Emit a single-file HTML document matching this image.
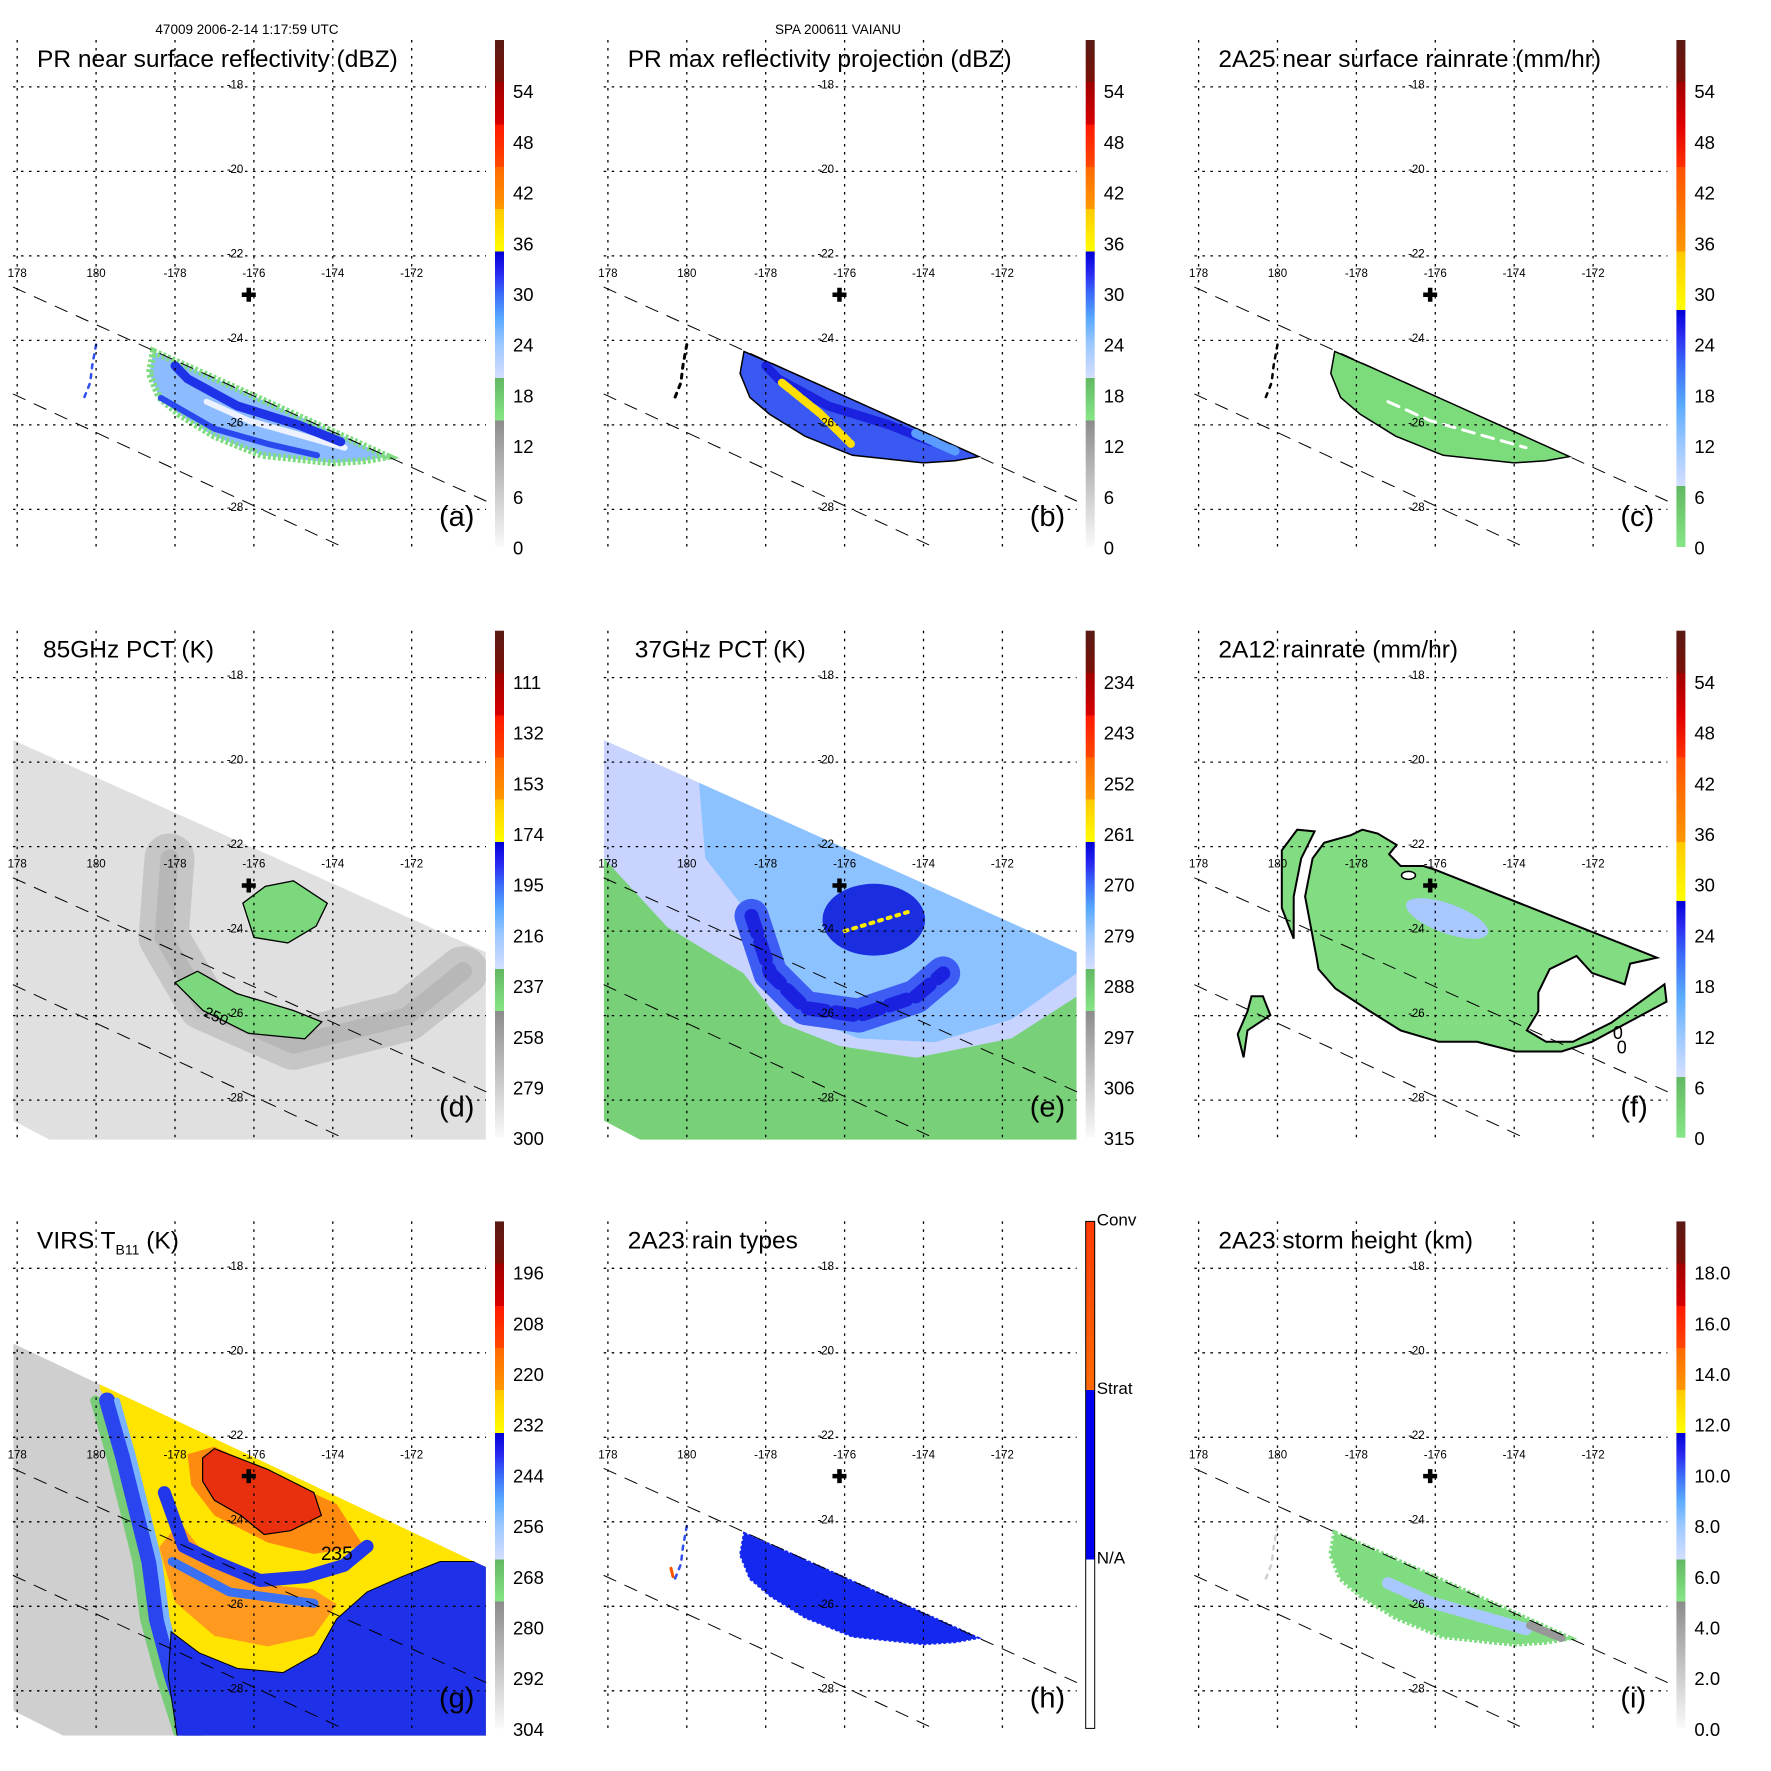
<!DOCTYPE html>
<html><head><meta charset="utf-8"><title>TRMM VAIANU 2006-2-14</title>
<style>
html,body{margin:0;padding:0;background:#fff;}
svg{display:block;font-family:"Liberation Sans",Arial,sans-serif;}
</style></head>
<body>
<svg id="fig" xmlns="http://www.w3.org/2000/svg" width="1771" height="1771" viewBox="0 0 1771 1771">
<rect x="0" y="0" width="1771" height="1771" fill="#fff"/>
<text x="247" y="34" font-size="13.5" text-anchor="middle">47009 2006-2-14 1:17:59 UTC</text>
<text x="838" y="34" font-size="13.5" text-anchor="middle">SPA 200611 VAIANU</text>
</svg>
<script>
// ---- axis data ----
const lonTicks=[178,180,182,184,186,188];
const lonTickLabels=['178','180','-178','-176','-174','-172'];
const latTicks=[-18,-20,-22,-24,-26,-28];
const latTickLabels=['-18','-20','-22','-24','-26','-28'];
const swathUpperLon=[177.9,189.88];
const swathUpperLat=[-22.74,-27.8];
const swathLowerLon=[177.9,186.25];
const swathLowerLat=[-25.27,-28.89];
const stormCenter=[183.87,-22.92];
// colorbar tick labels (top to bottom) at fractions 0.9..0
const cbFracs=[0.9,0.8,0.7,0.6,0.5,0.4,0.3,0.2,0.1,0];
const cbLabelsDbz=['54','48','42','36','30','24','18','12','6','0'];
const cbLabels85=['111','132','153','174','195','216','237','258','279','300'];
const cbLabels37=['234','243','252','261','270','279','288','297','306','315'];
const cbLabelsVirs=['196','208','220','232','244','256','268','280','292','304'];
const cbLabelsHeight=['18.0','16.0','14.0','12.0','10.0','8.0','6.0','4.0','2.0','0.0'];
const cbLabelsRainType=['Conv','Strat','N/A'];
const cbFracsRainType=[1,0.667,0.333];
// ---- swaths ----
const tmiLon=[177.9,189.88,189.88,178.82,177.9];
const tmiLat=[-19.48,-24.5,-28.94,-28.94,-28.49];
const virsLon=[177.9,189.88,189.88,179.16,177.9];
const virsLat=[-19.78,-25.07,-29.06,-29.06,-28.47];
// ---- PR storm region ----
const prLon=[181.45,182.5,183.5,184.5,185.5,186.5,187.4,186.8,186.0,185.2,184.2,183.0,182.1,181.6,181.35];
const prLat=[-24.26,-24.69,-25.11,-25.53,-25.95,-26.37,-26.75,-26.85,-26.9,-26.82,-26.72,-26.27,-25.75,-25.35,-24.78];
const prBand1Lon=[182.0,182.32,183.58,185.13,186.2];
const prBand1Lat=[-24.6,-24.91,-25.55,-26.0,-26.4];
const prBand2Lon=[181.64,183.0,184.35,185.6];
const prBand2Lat=[-25.36,-26.09,-26.45,-26.72];
const prGapLon=[182.8,183.87,186.3];
const prGapLat=[-25.45,-25.9,-26.54];
const prYellowLon=[182.41,183.38,184.16];
const prYellowLat=[-25.0,-25.73,-26.45];
const prSpeckLon=[180.0,179.9,179.85,179.7];
const prSpeckLat=[-24.1,-24.6,-25.0,-25.35];
// ---- 85 GHz ----
const d85BandLon=[181.86,181.71,182.71,185.0,187.87,189.3];
const d85BandLat=[-22.28,-24.15,-25.75,-26.69,-26.02,-24.95];
const d85P1Lon=[183.72,184.29,185.0,185.86,185.58,184.86,184.0];
const d85P1Lat=[-23.34,-22.94,-22.81,-23.34,-23.88,-24.28,-24.15];
const d85P2Lon=[182.0,182.57,183.57,185.0,185.72,185.29,183.86,182.71];
const d85P2Lat=[-25.22,-24.95,-25.48,-25.88,-26.15,-26.55,-26.42,-25.88];
// ---- 37 GHz ----
const e37LavLon=[177.5,177.9,179.5,181.44,182.41,183.87,185.81,188.23,189.88,190.5,190.5,177.5];
const e37LavLat=[-22.28,-22.28,-23.9,-25.0,-26.18,-26.72,-27.0,-26.54,-25.55,-24.5,-17,-17];
const e37BlueLon=[180.47,181.93,182.61,184.35,186.29,188.23,189.88,190.5,190.5,180.0];
const e37BlueLat=[-22.28,-24.03,-25.9,-26.54,-26.63,-26.09,-25.0,-24.6,-17,-17];
const e37RingLon=[181.64,182.12,183.0,184.35,185.8,186.5];
const e37RingLat=[-23.64,-25.0,-25.82,-26.0,-25.55,-25.0];
const e37Eye=[184.74,-23.73];
// ---- 2A12 ----
const fMainLon=[184.0,189.62,188.94,188.8,187.97,187.58,186.9,186.61,186.61,186.32,186.81,187.49,188.46,189.81,189.86,187.97,187.2,186.03,185.06,184.09,183.12,182.35,181.47,181.04,180.99,180.7,180.89,181.18,181.86,182.15,182.54,183.02,182.83,183.12,183.7];
const fMainLat=[-22.55,-24.63,-24.77,-25.26,-24.99,-24.59,-24.9,-25.45,-25.9,-26.35,-26.62,-26.62,-26.17,-25.26,-25.67,-26.62,-26.85,-26.85,-26.62,-26.62,-26.35,-25.9,-25.36,-24.9,-24.63,-23.18,-22.28,-21.91,-21.73,-21.6,-21.69,-21.96,-22.18,-22.46,-22.46];
const fStripLon=[180.11,180.5,180.94,180.6,180.41,180.41,180.11];
const fStripLat=[-22.09,-21.6,-21.64,-22.28,-23.18,-24.18,-23.45];
const fSmallLon=[179.34,179.63,179.82,179.24,179.14,178.99,179.24];
const fSmallLat=[-25.54,-25.54,-25.99,-26.35,-26.99,-26.44,-25.9];
const fRain=[184.3,-23.7];
// ---- VIRS ----
const gCloudLon=[180.09,180.47,180.76,181.06,181.25,181.44,181.73,182.22,190.5,190.5,180.09];
const gCloudLat=[-20.86,-21.32,-22.76,-24.03,-24.94,-25.84,-27.66,-29.06,-29.5,-25.0,-20.6];
const gWestLon=[180.28,180.67,181.06,181.35,181.54,181.93,182.41];
const gWestLat=[-21.13,-22.4,-23.85,-24.94,-26.3,-27.66,-29.06];
const gBlueLon=[181.9,182.61,183.58,184.74,185.61,186.1,186.87,187.75,188.72,190.17,190.17,182.12,181.83];
const gBlueLat=[-26.6,-27.1,-27.47,-27.57,-27.11,-26.3,-25.66,-25.3,-24.94,-24.94,-29.47,-29.47,-27.66];
const gOrangeLon=[181.6,182.0,183.0,184.35,185.52,186.1,185.5,184.5,183.58,182.61,182.12];
const gOrangeLat=[-24.6,-25.9,-26.7,-26.95,-26.7,-25.95,-25.6,-25.5,-25.3,-24.6,-24.0];
const gRingLon=[182.32,183.0,186.1,186.78,185.52,184.35,183.0,182.41];
const gRingLat=[-22.4,-22.22,-23.58,-24.58,-24.76,-24.49,-23.85,-23.13];
const gCoreLon=[182.7,183.0,184.35,185.52,185.71,184.93,184.26,183.67,183.0,182.7];
const gCoreLat=[-22.49,-22.27,-22.76,-23.31,-23.85,-24.21,-24.3,-23.85,-23.49,-23.04];
const gSpiral1Lon=[181.73,182.22,183.0,184.16,185.32,186.29,186.87];
const gSpiral1Lat=[-23.31,-24.58,-24.94,-25.39,-25.3,-25.03,-24.58];
const gSpiral2Lon=[181.93,183.38,185.52];
const gSpiral2Lat=[-24.94,-25.66,-25.93];

const STEP=590.7;
const NS='http://www.w3.org/2000/svg';
const svg=document.getElementById('fig');
function mk(tag,attrs,parent){const e=document.createElementNS(NS,tag);for(const k in attrs)e.setAttribute(k,attrs[k]);parent.appendChild(e);return e;}
function X(p,lon){return p.col*STEP+17.2+(lon-178)*39.45;}
function Y(p,lat){return p.row*STEP+86.9+(-18-lat)*42.25;}
function pts(p,lons,lats){return lons.map((l,i)=>X(p,l).toFixed(1)+','+Y(p,lats[i]).toFixed(1)).join(' ');}

const defs=mk('defs',{},svg);
const cbStopsA=[[0,'#fafafa'],[0.25,'#8c8c8c'],[0.25,'#86e686'],[0.333,'#62b862'],[0.333,'#d4deff'],[0.40,'#9cc8ff'],[0.45,'#5aaaff'],[0.5,'#3a6af8'],[0.54,'#2828f0'],[0.583,'#0000d8'],[0.583,'#ffff00'],[0.667,'#ffc800'],[0.667,'#ff9800'],[0.75,'#ff6800'],[0.75,'#ff4800'],[0.833,'#ff1800'],[0.833,'#d80000'],[0.917,'#a00000'],[0.917,'#7a1008'],[1,'#5a1a14']];
const cbStopsC=[[0,'#86e686'],[0.12,'#62b862'],[0.12,'#d4deff'],[0.2,'#9cc8ff'],[0.28,'#5aaaff'],[0.36,'#3a6af8'],[0.42,'#2828f0'],[0.467,'#0000d8'],[0.467,'#ffff00'],[0.583,'#ffc800'],[0.583,'#ff9800'],[0.75,'#ff5000'],[0.75,'#ff3000'],[0.833,'#e00000'],[0.917,'#a00000'],[0.917,'#7a1008'],[1,'#5a1a14']];
const cbStopsH=[[0,'#ffffff'],[0.333,'#ffffff'],[0.333,'#0000f0'],[0.667,'#0000f0'],[0.667,'#ff6a00'],[1,'#ff3a00']];
[['cbA',cbStopsA],['cbC',cbStopsC],['cbH',cbStopsH]].forEach(([id,st])=>{
  const lg=mk('linearGradient',{id:id,x1:0,y1:1,x2:0,y2:0},defs);
  st.forEach(s=>mk('stop',{offset:s[0],'stop-color':s[1]},lg));
});

const panels=[
 {id:'a',col:0,row:0,title:'PR near surface reflectivity (dBZ)',tx:37,cb:'cbA',labels:cbLabelsDbz},
 {id:'b',col:1,row:0,title:'PR max reflectivity projection (dBZ)',tx:37,cb:'cbA',labels:cbLabelsDbz},
 {id:'c',col:2,row:0,title:'2A25 near surface rainrate (mm/hr)',tx:37,cb:'cbC',labels:cbLabelsDbz},
 {id:'d',col:0,row:1,title:'85GHz PCT (K)',tx:43,cb:'cbA',labels:cbLabels85},
 {id:'e',col:1,row:1,title:'37GHz PCT (K)',tx:44,cb:'cbA',labels:cbLabels37},
 {id:'f',col:2,row:1,title:'2A12 rainrate (mm/hr)',tx:37,cb:'cbC',labels:cbLabelsDbz},
 {id:'g',col:0,row:2,title:'VIRS',tx:37,cb:'cbA',labels:cbLabelsVirs},
 {id:'h',col:1,row:2,title:'2A23 rain types',tx:37,cb:'cbH',labels:null},
 {id:'i',col:2,row:2,title:'2A23 storm height (km)',tx:37,cb:'cbA',labels:cbLabelsHeight}
];

function poly(g,p,lons,lats,attrs,name){
  const e=mk('polygon',Object.assign({points:pts(p,lons,lats)},attrs),g);
  
  
  return e;
}
function line(g,p,lons,lats,attrs,name){
  const e=mk('polyline',Object.assign({points:pts(p,lons,lats),fill:'none','stroke-linejoin':'round','stroke-linecap':'round'},attrs),g);
  
  
  return e;
}
function clipFor(p,lons,lats){
  const cp=mk('clipPath',{id:'clip-'+p.id},defs);
  mk('polygon',{points:pts(p,lons,lats)},cp);
  return 'url(#clip-'+p.id+')';
}

function drawPR(p,g,style){
  if(style==='a'){
    poly(g,p,prLon,prLat,{fill:'#8cbcff',stroke:'#80dc80','stroke-width':7,'stroke-dasharray':'3,2'},'pr-rain-region');
    line(g,p,prGapLon,prGapLat,{stroke:'#eef2ff','stroke-width':6},'weak-echo-gap');
    line(g,p,prBand1Lon,prBand1Lat,{stroke:'#1e32e8','stroke-width':9},'convective-band-upper');
    line(g,p,prBand2Lon,prBand2Lat,{stroke:'#2a48ee','stroke-width':6},'convective-band-lower');
    line(g,p,prSpeckLon,prSpeckLat,{stroke:'#3050f0','stroke-width':2.5,'stroke-dasharray':'4,6'},'isolated-echo');
  } else if(style==='b'){
    poly(g,p,prLon,prLat,{fill:'#3a58f2',stroke:'#000','stroke-width':1.5},'pr-rain-region');
    line(g,p,prBand1Lon,prBand1Lat,{stroke:'#1a22e0','stroke-width':9},'strong-band');
    line(g,p,prYellowLon,prYellowLat,{stroke:'#ffe000','stroke-width':8,'stroke-dasharray':'10,3'},'yellow-core');
    line(g,p,[185.8,186.8],[-26.2,-26.62],{stroke:'#5a9cff','stroke-width':9},'weak-east-end');
    line(g,p,prSpeckLon,prSpeckLat,{stroke:'#000','stroke-width':3,'stroke-dasharray':'4,6'},'isolated-echo');
  } else if(style==='c'){
    poly(g,p,prLon,prLat,{fill:'#7cdc7c',stroke:'#000','stroke-width':1.5},'pr-rain-region');
    line(g,p,prGapLon,prGapLat,{stroke:'#fff','stroke-width':3,'stroke-dasharray':'12,8'},'no-rain-holes');
    line(g,p,prSpeckLon,prSpeckLat,{stroke:'#000','stroke-width':2.5,'stroke-dasharray':'4,6'},'isolated-echo');
  } else if(style==='h'){
    poly(g,p,prLon,prLat,{fill:'#1428f0',stroke:'#1428f0','stroke-width':2,'stroke-dasharray':'3,2'},'stratiform-region');
    line(g,p,prSpeckLon,prSpeckLat,{stroke:'#3050f0','stroke-width':2.5,'stroke-dasharray':'4,6'},'isolated-echo');
    line(g,p,[179.6,179.65],[-25.1,-25.3],{stroke:'#ff5500','stroke-width':3},'convective-pixel');
  } else if(style==='i'){
    poly(g,p,prLon,prLat,{fill:'#80dc80',stroke:'#80dc80','stroke-width':5,'stroke-dasharray':'3,2'},'echo-top-region');
    line(g,p,prGapLon,prGapLat,{stroke:'#a8c8ff','stroke-width':12,'stroke-dasharray':'14,5'},'high-tops');
    line(g,p,[186.4,187.2],[-26.45,-26.75],{stroke:'#989898','stroke-width':8},'low-tops');
    line(g,p,prSpeckLon,prSpeckLat,{stroke:'#d0d0d0','stroke-width':2.5,'stroke-dasharray':'4,6'},'isolated-echo');
  }
}

function drawD(p,g){
  const cg=mk('g',{'clip-path':clipFor(p,tmiLon,tmiLat)},g);
  
  
  poly(cg,p,tmiLon,tmiLat,{fill:'#e0e0e0'},'swath-background');
  line(cg,p,d85BandLon,d85BandLat,{stroke:'#b4b4b4','stroke-width':50,opacity:0.6},'cold-band');
  line(cg,p,d85BandLon,d85BandLat,{stroke:'#9a9a9a','stroke-width':18,opacity:0.35},'cold-band-core');
  poly(cg,p,d85P1Lon,d85P1Lat,{fill:'#7cd87c',stroke:'#000','stroke-width':1.3},'scattering-region-inner');
  poly(cg,p,d85P2Lon,d85P2Lat,{fill:'#7cd87c',stroke:'#000','stroke-width':1.3},'scattering-region-outer');
  const t=mk('text',{x:X(p,182.7),y:Y(p,-26.0),'font-size':15,transform:'rotate(25 '+X(p,182.7)+' '+Y(p,-26.0)+')'},cg);
  t.textContent='250';
  
  
}
function drawE(p,g){
  const cg=mk('g',{'clip-path':clipFor(p,tmiLon,tmiLat)},g);
  
  
  poly(cg,p,tmiLon,tmiLat,{fill:'#78d078'},'swath-background');
  poly(cg,p,e37LavLon,e37LavLat,{fill:'#c8d4ff'},'weak-scattering');
  poly(cg,p,e37BlueLon,e37BlueLat,{fill:'#8cc2ff'},'moderate-scattering');
  line(cg,p,e37RingLon,e37RingLat,{stroke:'#3c5cf4','stroke-width':34},'rainband');
  line(cg,p,e37RingLon,e37RingLat,{stroke:'#1a22e0','stroke-width':14,'stroke-dasharray':'18,10'},'rainband-core');
  const el=mk('ellipse',{cx:X(p,e37Eye[0]),cy:Y(p,e37Eye[1]),rx:1.3*39.45,ry:0.85*42.25,fill:'#1a2ee0'},cg);
  
  
  line(cg,p,[184.0,185.6],[-24.0,-23.55],{stroke:'#ffee00','stroke-width':4,'stroke-dasharray':'3,6'},'yellow-pixels');
}
function drawF(p,g){
  poly(g,p,fMainLon,fMainLat,{fill:'#82dc82',stroke:'#000','stroke-width':2},'rain-region');
  poly(g,p,fStripLon,fStripLat,{fill:'#82dc82',stroke:'#000','stroke-width':2},'rain-strip');
  poly(g,p,fSmallLon,fSmallLat,{fill:'#82dc82',stroke:'#000','stroke-width':2},'rain-patch');
  const el=mk('ellipse',{cx:X(p,fRain[0]),cy:Y(p,fRain[1]),rx:1.1*39.45,ry:0.35*42.25,fill:'#a8c8ff',transform:'rotate(20 '+X(p,fRain[0])+' '+Y(p,fRain[1])+')'},g);
  
  
  const o=mk('ellipse',{cx:X(p,183.32),cy:Y(p,-22.68),rx:7,ry:4,fill:'#fff',stroke:'#000','stroke-width':1.5},g);
  
  
  [[188.5,-26.55],[188.6,-26.9]].forEach(c=>{
    const t=mk('text',{x:X(p,c[0]),y:Y(p,c[1]),'font-size':18},g);
    t.textContent='0';
    
    
  });
}
function drawG(p,g){
  const cg=mk('g',{'clip-path':clipFor(p,virsLon,virsLat)},g);
  
  
  poly(cg,p,virsLon,virsLat,{fill:'#cfcfcf'},'clear-sky');
  poly(cg,p,gCloudLon,gCloudLat,{fill:'#ffe400'},'cloud-shield');
  line(cg,p,gWestLon.map(v=>v-0.3),gWestLat,{stroke:'#78cc78','stroke-width':10},'cloud-edge-warm');
  line(cg,p,gWestLon,gWestLat,{stroke:'#2a44f0','stroke-width':16},'cloud-edge-blue');
  line(cg,p,gWestLon.map(v=>v+0.25),gWestLat,{stroke:'#7ab4ff','stroke-width':6},'cloud-edge-light');
  poly(cg,p,gBlueLon,gBlueLat,{fill:'#1e30e8',stroke:'#000','stroke-width':1},'outer-cloud-region');
  poly(cg,p,gOrangeLon,gOrangeLat,{fill:'#ff9a1e'},'cold-cloud-region');
  poly(cg,p,gRingLon,gRingLat,{fill:'#ff8a10'},'cold-ring');
  poly(cg,p,gCoreLon,gCoreLat,{fill:'#e8300e',stroke:'#000','stroke-width':1.2},'coldest-core');
  line(cg,p,gSpiral1Lon,gSpiral1Lat,{stroke:'#2236ea','stroke-width':13},'spiral-band-1');
  line(cg,p,gSpiral2Lon,gSpiral2Lat,{stroke:'#3a70f4','stroke-width':9},'spiral-band-2');
  const t=mk('text',{x:X(p,185.7),y:Y(p,-24.9),'font-size':19},cg);
  t.textContent='235';
  
  
}

panels.forEach(p=>{
  const ox=p.col*STEP, oy=p.row*STEP;
  const g=mk('g',{},svg);
  
  
  const dg=mk('g',{},g);
  
  
  if('abchi'.includes(p.id)) drawPR(p,dg,p.id);
  if(p.id==='d') drawD(p,dg);
  if(p.id==='e') drawE(p,dg);
  if(p.id==='f') drawF(p,dg);
  if(p.id==='g') drawG(p,dg);
  // grid
  const gg=mk('g',{stroke:'#000','stroke-width':1.3,'stroke-dasharray':'2.5,5.5'},g);
  
  
  lonTicks.forEach(l=>{
    const ln=mk('line',{x1:X(p,l),x2:X(p,l),y1:oy+40,y2:oy+547},gg);
    
    
  });
  latTicks.forEach(l=>{
    const ln=mk('line',{x1:ox+13,x2:ox+486,y1:Y(p,l),y2:Y(p,l)},gg);
    
    
  });
  // swath lines
  line(g,p,swathUpperLon,swathUpperLat,{stroke:'#000','stroke-width':1,'stroke-dasharray':'13,10'},'pr-swath-edge-north');
  line(g,p,swathLowerLon,swathLowerLat,{stroke:'#000','stroke-width':1,'stroke-dasharray':'13,10'},'pr-swath-edge-south');
  // tick labels
  lonTicks.forEach((l,i)=>{
    const t=mk('text',{x:X(p,l),y:oy+277,'font-size':11.5,'text-anchor':'middle'},g);
    t.textContent=lonTickLabels[i];
    
    
  });
  latTicks.forEach((l,i)=>{
    const t=mk('text',{x:ox+235,y:Y(p,l)+1.5,'font-size':11.5,'text-anchor':'middle'},g);
    t.textContent=latTickLabels[i];
    
    
  });
  // storm center cross
  const cx=X(p,stormCenter[0]), cy=Y(p,stormCenter[1]);
  const cr=mk('path',{d:`M${cx-7} ${cy}H${cx+7}M${cx} ${cy-7}V${cy+7}`,stroke:'#000','stroke-width':4.5},g);
  
  
  // title
  const tt=mk('text',{x:ox+p.tx,y:oy+67,'font-size':24.5},g);
  
  
  if(p.id==='g'){
    tt.textContent='VIRS T';
    const s=mk('tspan',{'font-size':14,dy:6},tt); s.textContent='B11';
    const s2=mk('tspan',{dy:-6},tt); s2.textContent=' (K)';
  } else tt.textContent=p.title;
  // letter
  const lt=mk('text',{x:ox+439,y:oy+526,'font-size':29},g);
  lt.textContent='('+p.id+')';
  
  
  // colorbar
  const bx=ox+495, bt=oy+40, bb=oy+547;
  const cb=mk('rect',{x:bx,y:bt,width:9,height:bb-bt,fill:'url(#'+p.cb+')',stroke:p.id==='h'?'#000':'none','stroke-width':1},g);
  
  
  const lab=p.labels||cbLabelsRainType;
  const fr=p.labels?cbFracs:cbFracsRainType;
  lab.forEach((s,i)=>{
    const y=bb-fr[i]*(bb-bt);
    const t=mk('text',{x:p.labels?bx+18:bx+11,y:p.labels?y+7.5:y+4,'font-size':p.labels?18.5:17},g);
    t.textContent=s;
    
    
  });
});
</script>
</body></html>
